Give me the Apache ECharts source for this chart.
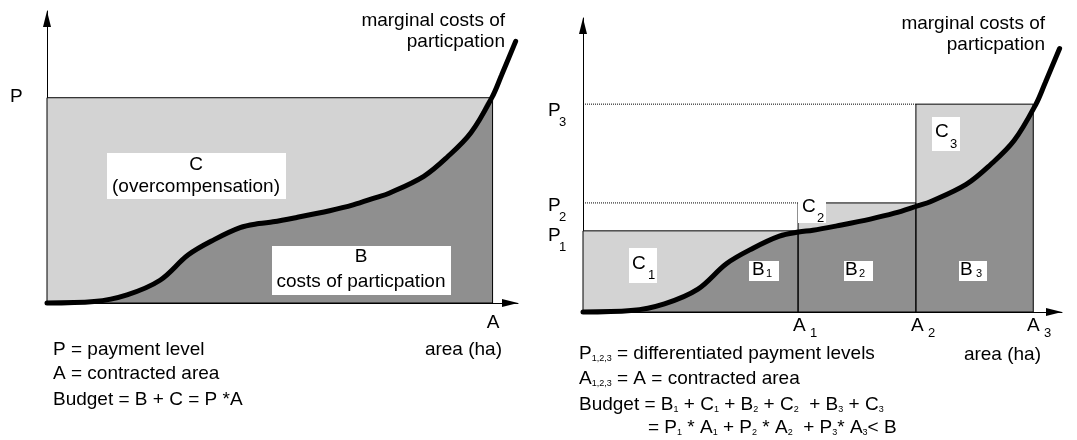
<!DOCTYPE html>
<html>
<head>
<meta charset="utf-8">
<script src="https://cdn.jsdelivr.net/npm/echarts@6/dist/echarts.min.js"></script>
<style>
  html, body { margin: 0; padding: 0; background: #fff; }
  #chart { width: 1077px; height: 440px; }
</style>
</head>
<body>
<div id="chart"></div>
<script>
// marginal cost curve, both panels (x: area, y: cost, in % of the axis)
const costX = [0, 10, 17, 24, 30, 35.5, 41, 45, 48, 53, 60, 65, 70, 72.5, 80, 85, 90, 94.5, 96.5, 99.5]
const costY = [0, 0.5, 2.8, 7.8, 16.5, 21.7, 25.8, 27.2, 27.8, 29.3, 31.6, 33.6, 36.2, 37.5, 43.4, 50, 58.3, 70.5, 78, 89.6]

// left panel: one payment level P over contracted area A
const singleA = 94.6
const singleP = 70.3

// right panel: differentiated payments
const tierA = [44.9, 69.5, 94]
const tierP = [27.6, 37.1, 70.7]

const LIGHT = '#d3d3d3'
const DARK = '#8f8f8f'
const FAM = '"Liberation Sans", Arial, Helvetica, sans-serif'
const FS = 19

const curve = costX.map((x, i) => [x, costY[i]])

function underCurve(limitX, limitY) {
  const pts = curve.filter((p) => p[0] < limitX)
  pts.push([limitX, limitY])
  return pts
}

// blocks: [x0, x1, payment]
const singleBlocks = [[0, singleA, singleP]]
const tierBlocks = tierA.map((a, i) => [i === 0 ? 0 : tierA[i - 1], a, tierP[i]])

function blockRenderer(outline) {
  return function (params, api) {
    const x0 = api.value(0)
    const x1 = api.value(1)
    const p = api.value(2)
    const tl = api.coord([x0, p])
    const br = api.coord([x1, 0])
    const rect = {
      type: 'rect',
      shape: { x: tl[0], y: tl[1], width: br[0] - tl[0], height: br[1] - tl[1] },
      style: outline
        ? { fill: 'none', stroke: '#000', lineWidth: 1 }
        : { fill: LIGHT }
    }
    if (!outline || x0 === 0) return rect
    const start = api.coord([0, p])
    return {
      type: 'group',
      children: [
        rect,
        {
          type: 'line',
          shape: { x1: start[0], y1: tl[1], x2: tl[0], y2: tl[1] },
          style: { stroke: '#000', lineWidth: 1, lineDash: [1, 1] }
        }
      ]
    }
  }
}

function panelSeries(idx, blocks, limitX, limitY) {
  return [
    {
      type: 'custom',
      xAxisIndex: idx,
      yAxisIndex: idx,
      z: 1,
      renderItem: blockRenderer(false),
      encode: { x: [0, 1], y: 2 },
      data: blocks
    },
    {
      type: 'line',
      xAxisIndex: idx,
      yAxisIndex: idx,
      z: 2,
      smooth: 0.35,
      symbol: 'none',
      lineStyle: { width: 0 },
      areaStyle: { color: DARK, opacity: 1 },
      data: underCurve(limitX, limitY)
    },
    {
      type: 'custom',
      xAxisIndex: idx,
      yAxisIndex: idx,
      z: 3,
      renderItem: blockRenderer(true),
      encode: { x: [0, 1], y: 2 },
      data: blocks
    },
    {
      type: 'line',
      xAxisIndex: idx,
      yAxisIndex: idx,
      z: 4,
      smooth: 0.35,
      symbol: 'none',
      clip: false,
      lineStyle: { width: 5, color: '#000', cap: 'round' },
      data: curve
    }
  ]
}

function axis(idx) {
  return {
    type: 'value',
    gridIndex: idx,
    min: 0,
    max: 100,
    axisLine: {
      show: true,
      onZero: false,
      symbol: ['none', 'triangle'],
      symbolSize: [8, 16],
      symbolOffset: [0, -8],
      lineStyle: { color: '#000', width: 1 }
    },
    axisTick: { show: false },
    axisLabel: { show: false },
    splitLine: { show: false }
  }
}

function txt(x, y, text, size, align) {
  return {
    type: 'text',
    x: x,
    y: y,
    z: 100,
    style: {
      text: text,
      fill: '#000',
      font: size + 'px ' + FAM,
      align: align || 'left',
      textAlign: align || 'left',
      verticalAlign: 'middle',
      textVerticalAlign: 'middle'
    }
  }
}

function box(x, y, w, h) {
  return { type: 'rect', z: 90, shape: { x: x, y: y, width: w, height: h }, style: { fill: '#fff' } }
}

// subscripted label: main letter + lowered small digit
function sub(x, y, main, s, dx, dy, size) {
  return [txt(x, y, main, FS), txt(x + dx, y + dy, s, size || 13)]
}

const rich = {
  m: { fontSize: FS, fontFamily: FAM, verticalAlign: 'bottom' },
  s: { fontSize: 9, fontFamily: FAM, verticalAlign: 'bottom' }
}

function richTxt(x, y, text) {
  return {
    type: 'text',
    x: x,
    y: y,
    z: 100,
    style: {
      text: text,
      fill: '#000',
      font: FS + 'px ' + FAM,
      rich: rich,
      verticalAlign: 'middle',
      textVerticalAlign: 'middle'
    }
  }
}

const graphics = [
  // left panel
  txt(505, 21, 'marginal costs of', FS, 'right'),
  txt(505, 42, 'particpation', FS, 'right'),
  txt(10, 97, 'P', FS),
  box(107, 153, 179, 46),
  txt(196, 165, 'C', FS, 'center'),
  txt(196, 187, '(overcompensation)', FS, 'center'),
  box(272, 246, 179, 49),
  txt(361, 257, 'B', FS, 'center'),
  txt(361, 282, 'costs of particpation', FS, 'center'),
  txt(493, 323, 'A', FS, 'center'),
  txt(502, 350, 'area (ha)', FS, 'right'),
  txt(53, 350, 'P = payment level', FS),
  txt(53, 374, 'A = contracted area', FS),
  txt(53, 400, 'Budget = B + C = P *A', FS),

  // right panel
  txt(1045, 24, 'marginal costs of', FS, 'right'),
  txt(1045, 45, 'particpation', FS, 'right'),
  ...sub(548, 111, 'P', '3', 11, 11),
  ...sub(548, 206, 'P', '2', 11, 11),
  ...sub(548, 236, 'P', '1', 11, 11),
  box(629, 248, 28, 35),
  ...sub(632, 264, 'C', '1', 16, 11),
  box(749, 261, 30, 20),
  ...sub(752, 270, 'B', '1', 14, 4, 11),
  box(844, 261, 29, 20),
  ...sub(845, 270, 'B', '2', 14, 4, 11),
  box(959, 261, 28, 20),
  ...sub(960, 270, 'B', '3', 16, 4, 11),
  box(798, 199, 28, 24),
  ...sub(802, 207, 'C', '2', 15, 11),
  box(932, 117, 28, 34),
  ...sub(935, 132, 'C', '3', 15, 12),
  ...sub(793, 326, 'A', '1', 17, 7),
  ...sub(911, 326, 'A', '2', 17, 7),
  ...sub(1027, 326, 'A', '3', 17, 7),
  txt(1041, 355, 'area (ha)', FS, 'right'),
  richTxt(579, 354, '{m|P}{s|1,2,3}{m| = differentiated payment levels}'),
  richTxt(579, 379, '{m|A}{s|1,2,3}{m| = A = contracted area}'),
  richTxt(579, 405, '{m|Budget = B}{s|1}{m| + C}{s|1}{m| + B}{s|2}{m| + C}{s|2}{m|  + B}{s|3}{m| + C}{s|3}'),
  richTxt(648, 428, '{m|= P}{s|1}{m| * A}{s|1}{m| + P}{s|2}{m| * A}{s|2}{m|  + P}{s|3}{m|* A}{s|3}{m|< B}')
]

const chart = echarts.init(document.getElementById('chart'))
chart.setOption({
  animation: false,
  backgroundColor: '#fff',
  grid: [
    { left: 47, top: 11, width: 471, height: 292 },
    { left: 583, top: 18, width: 479, height: 294 }
  ],
  xAxis: [axis(0), axis(1)],
  yAxis: [axis(0), axis(1)],
  series: [
    ...panelSeries(0, singleBlocks, singleA, singleP),
    ...panelSeries(1, tierBlocks, tierA[2], tierP[2])
  ],
  graphic: graphics
})
</script>
</body>
</html>
